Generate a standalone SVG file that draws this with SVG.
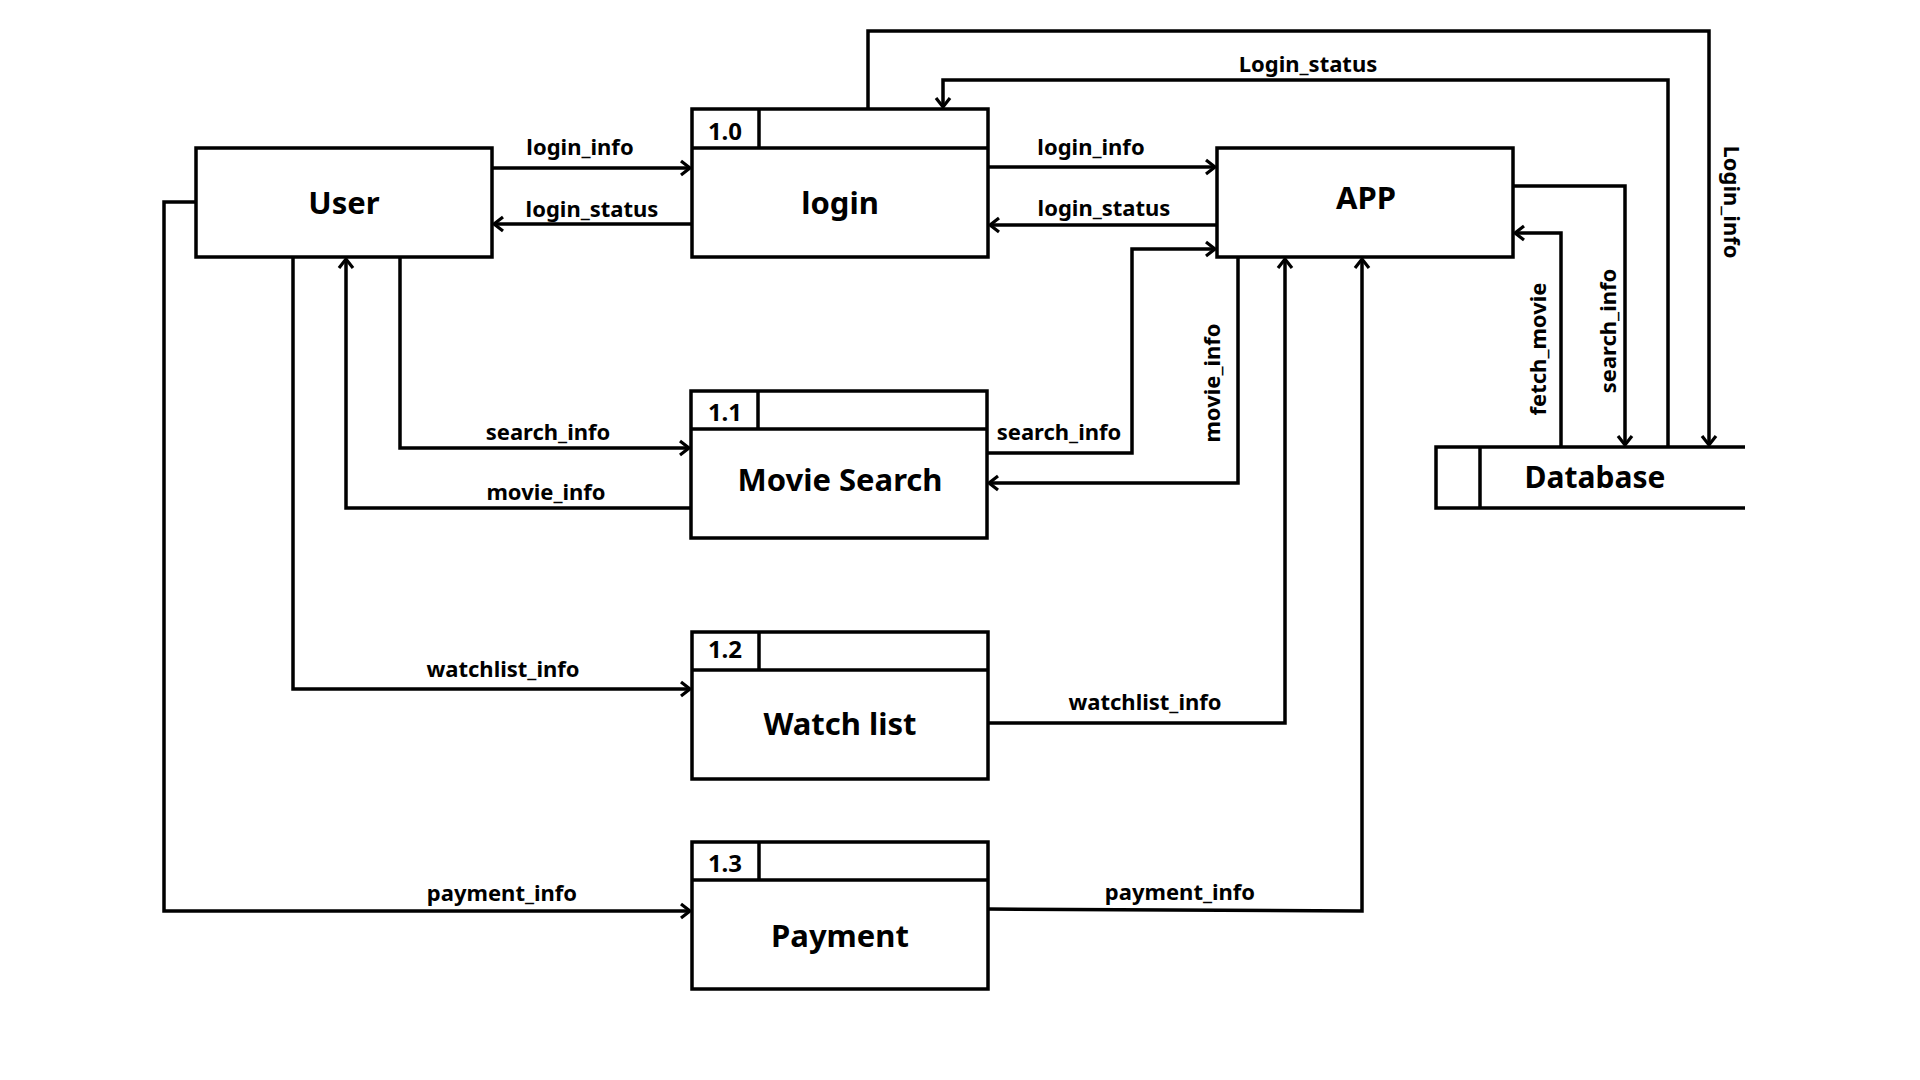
<svg xmlns="http://www.w3.org/2000/svg" width="1920" height="1080" viewBox="0 0 1920 1080">
<defs>
<style>
.box{fill:#fff;stroke:#000;stroke-width:3.5}
.ln{fill:none;stroke:#000;stroke-width:3.5}
.flow{fill:none;stroke:#000;stroke-width:3.5;marker-end:url(#arr)}
.title{font-family:"Noto Sans","Open Sans",sans-serif;font-weight:700;font-size:31px;text-anchor:middle;fill:#000}
.num{font-family:"Noto Sans","Open Sans",sans-serif;font-weight:700;font-size:24px;text-anchor:middle;fill:#000}
.lbl{font-family:"Noto Sans","Open Sans",sans-serif;font-weight:700;font-size:22px;text-anchor:middle;fill:#000}
</style>
<marker id="arr" markerUnits="userSpaceOnUse" markerWidth="16" markerHeight="20" refX="12" refY="9" orient="auto" viewBox="0 0 16 20">
<path d="M3,2 L12,9 L3,16" fill="none" stroke="#000" stroke-width="3.2"/>
</marker>
</defs>
<rect width="1920" height="1080" fill="#fff"/>

<g id="connectors">
<path class="flow" d="M492,168 H690"/>
<path class="flow" d="M692,224 H494"/>
<path class="flow" d="M988,167 H1215"/>
<path class="flow" d="M1217,225 H990"/>
<path class="flow" d="M987,453 H1132 V249 H1215"/>
<path class="flow" d="M1238,257 V483 H989"/>
<path class="flow" d="M988,723 H1285 V259"/>
<path class="flow" d="M988,909 L1362,911 V259"/>
<path class="flow" d="M293,257 V689 H690"/>
<path class="flow" d="M196,202 H164 V911 H690"/>
<path class="flow" d="M400,257 V448 H689"/>
<path class="flow" d="M691,508 H346 V259"/>
<path class="flow" d="M868,109 V31 H1709 V445"/>
<path class="flow" d="M1668,447 V80 H943 V107"/>
<path class="flow" d="M1513,186 H1625 V445"/>
<path class="flow" d="M1561,447 V233 H1515"/>
<text class="lbl" x="580" y="155">login_info</text>
<text class="lbl" x="592" y="217">login_status</text>
<text class="lbl" x="1091" y="155">login_info</text>
<text class="lbl" x="1104" y="216">login_status</text>
<text class="lbl" x="1059" y="440">search_info</text>
<text class="lbl" transform="translate(1220,383) rotate(-90)">movie_info</text>
<text class="lbl" x="1145" y="710">watchlist_info</text>
<text class="lbl" x="1180" y="900">payment_info</text>
<text class="lbl" x="503" y="677">watchlist_info</text>
<text class="lbl" x="502" y="901">payment_info</text>
<text class="lbl" x="548" y="440">search_info</text>
<text class="lbl" x="546" y="500">movie_info</text>
<text class="lbl" x="1308" y="72">Login_status</text>
<text class="lbl" transform="translate(1724,202) rotate(90)">Login_info</text>
<text class="lbl" transform="translate(1616,331) rotate(-90)">search_info</text>
<text class="lbl" transform="translate(1546,349) rotate(-90)">fetch_movie</text>
</g>

<g id="user">
<rect class="box" x="196" y="148" width="296" height="109"/>
<text class="title" x="344" y="214">User</text>
</g>

<g id="login">
<rect class="box" x="692" y="109" width="296" height="148"/>
<path class="ln" d="M692,148 H988 M759,109 V148"/>
<text class="num" x="725" y="140">1.0</text>
<text class="title" x="840" y="214">login</text>
</g>

<g id="app">
<rect class="box" x="1217" y="148" width="296" height="109"/>
<text class="title" x="1366" y="209">APP</text>
</g>

<g id="movie-search">
<rect class="box" x="691" y="391" width="296" height="147"/>
<path class="ln" d="M691,429 H987 M758,391 V429"/>
<text class="num" x="725" y="421">1.1</text>
<text class="title" x="840" y="491">Movie Search</text>
</g>

<g id="watch-list">
<rect class="box" x="692" y="632" width="296" height="147"/>
<path class="ln" d="M692,670 H988 M759,632 V670"/>
<text class="num" x="725" y="658">1.2</text>
<text class="title" x="840" y="735">Watch list</text>
</g>

<g id="payment">
<rect class="box" x="692" y="842" width="296" height="147"/>
<path class="ln" d="M692,880 H988 M759,842 V880"/>
<text class="num" x="725" y="872">1.3</text>
<text class="title" x="840" y="947">Payment</text>
</g>

<g id="database">
<path class="ln" d="M1745,447 H1436 V508 H1745 M1480,447 V508"/>
<text class="title" x="1595" y="488" style="font-size:30px">Database</text>
</g>
</svg>
